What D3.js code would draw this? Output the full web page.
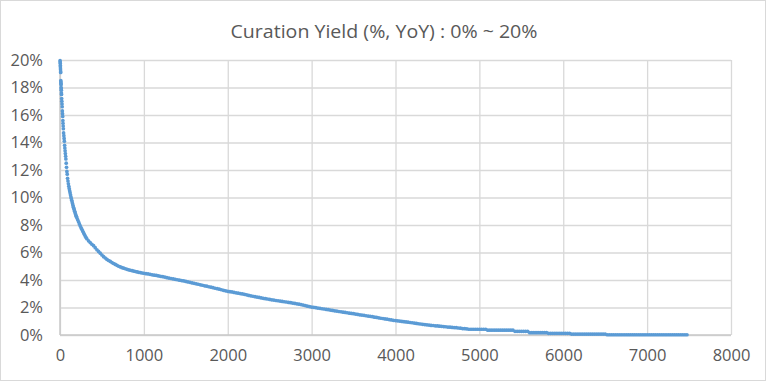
<!DOCTYPE html>
<html>
<head>
<meta charset="utf-8">
<script src="https://cdn.jsdelivr.net/npm/d3@7"></script>
<style>
  body { margin: 0; background: #fff; }
  svg { display: block; font-family: 'Open Sans', sans-serif; }
</style>
</head>
<body>
<div id="chart"></div>
<script>
'use strict';

const title = 'Curation Yield (%, YoY) : 0% ~ 20%';
const xTicks = [0, 1000, 2000, 3000, 4000, 5000, 6000, 7000, 8000];
const yTicks = [0, 2, 4, 6, 8, 10, 12, 14, 16, 18, 20];

// rank of each account (x) and its yield in % (y)
const ranks = [
  1, 2, 3, 4, 5, 6, 7, 8,
  10, 11, 12, 13, 14, 15, 16, 17, 18,
  20, 22, 24, 26, 28, 30, 32, 34, 36, 38, 40,
  43, 46, 49, 52, 55, 58, 61, 64, 67, 70, 74, 78, 82, 86,
  90, 95, 100, 105, 110, 115, 120, 125, 130, 135, 140, 145,
  150, 155, 160, 165, 170, 175, 180, 185, 190, 195, 200,
  210, 220, 230, 240, 250, 260, 270, 280, 290, 300, 310, 320,
  340, 360, 380, 400, 420, 440, 460, 480, 500, 520, 540, 560,
  580, 600, 620, 640, 660, 680, 700, 720, 740, 760, 780, 800,
  820, 840, 860, 880, 900, 920, 940, 960, 980,
  1000, 1025, 1050, 1075, 1100, 1125, 1150, 1175,
  1200, 1225, 1250, 1275, 1300, 1325, 1350, 1375,
  1400, 1425, 1450, 1475, 1500, 1525, 1550, 1575,
  1600, 1625, 1650, 1675, 1700, 1725, 1750, 1775,
  1800, 1825, 1850, 1875, 1900, 1925, 1950, 1975,
  2000, 2025, 2050, 2075, 2100, 2125, 2150, 2175,
  2200, 2225, 2250, 2275, 2300, 2325, 2350, 2375,
  2400, 2425, 2450, 2475, 2500, 2525, 2550, 2575,
  2600, 2625, 2650, 2675, 2700, 2725, 2750, 2775,
  2800, 2825, 2850, 2875, 2900, 2925, 2950, 2975,
  3000, 3025, 3050, 3075, 3100, 3125, 3150, 3175,
  3200, 3225, 3250, 3275, 3300, 3325, 3350, 3375,
  3400, 3425, 3450, 3475, 3500, 3525, 3550, 3575,
  3600, 3625, 3650, 3675, 3700, 3725, 3750, 3775,
  3800, 3825, 3850, 3875, 3900, 3925, 3950, 3975,
  4000, 4025, 4050, 4075, 4100, 4125, 4150, 4175,
  4200, 4225, 4250, 4275, 4300, 4325, 4350, 4375,
  4400, 4425, 4450, 4475, 4500, 4525, 4550, 4575,
  4600, 4625, 4650, 4675, 4700, 4725, 4750, 4775,
  4800, 4825, 4850, 4875, 4900, 4925, 4950, 4975,
  5000, 5025, 5050, 5075, 5100, 5125, 5150, 5175,
  5200, 5225, 5250, 5275, 5300, 5325, 5350, 5375,
  5400, 5425, 5450, 5475, 5500, 5525, 5550, 5575,
  5600, 5625, 5650, 5675, 5700, 5725, 5750, 5775,
  5800, 5825, 5850, 5875, 5900, 5925, 5950, 5975,
  6000, 6025, 6050, 6075, 6100, 6125, 6150, 6175,
  6200, 6225, 6250, 6275, 6300, 6325, 6350, 6375,
  6400, 6425, 6450, 6475, 6500, 6525, 6550, 6575,
  6600, 6625, 6650, 6675, 6700, 6725, 6750, 6775,
  6800, 6825, 6850, 6875, 6900, 6925, 6950, 6975,
  7000, 7025, 7050, 7075, 7100, 7125, 7150, 7175,
  7200, 7225, 7250, 7275, 7300, 7325, 7350, 7375,
  7400, 7425, 7450, 7475
];

const yields = [
  19.95, 19.85, 19.75, 19.6, 19.5, 19.35, 19.2, 19.1,
  18.5, 18.4, 18.3, 18.2, 18.0, 17.9, 17.8, 17.6, 17.5,
  17.2, 17.0, 16.8, 16.6, 16.3, 16.1, 15.9, 15.6, 15.4, 15.2, 15.0,
  14.7, 14.5, 14.3, 14.1, 13.8, 13.6, 13.4, 13.2, 13.0, 12.8, 12.5, 12.2, 11.9, 11.7,
  11.40, 11.20, 11.00, 10.82, 10.65, 10.50, 10.35, 10.20, 10.05, 9.92, 9.80, 9.67,
  9.55, 9.42, 9.30, 9.20, 9.10, 9.00, 8.90, 8.80, 8.70, 8.62, 8.55,
  8.40, 8.25, 8.10, 7.95, 7.82, 7.70, 7.57, 7.45, 7.32, 7.20, 7.10, 7.00,
  6.85, 6.72, 6.60, 6.50, 6.35, 6.20, 6.08, 5.95, 5.82, 5.70, 5.60, 5.50,
  5.42, 5.35, 5.27, 5.20, 5.13, 5.07, 5.00, 4.95, 4.90, 4.86, 4.82, 4.78,
  4.74, 4.71, 4.68, 4.65, 4.62, 4.59, 4.56, 4.54, 4.51,
  4.49, 4.46, 4.44, 4.41, 4.38, 4.35, 4.33, 4.30,
  4.27, 4.24, 4.21, 4.17, 4.14, 4.11, 4.08, 4.05,
  4.02, 3.99, 3.96, 3.93, 3.90, 3.86, 3.83, 3.79,
  3.76, 3.72, 3.69, 3.65, 3.62, 3.58, 3.55, 3.51,
  3.48, 3.44, 3.40, 3.37, 3.33, 3.29, 3.25, 3.21,
  3.18, 3.15, 3.13, 3.10, 3.07, 3.04, 3.01, 2.99,
  2.96, 2.92, 2.88, 2.85, 2.82, 2.79, 2.76, 2.73,
  2.70, 2.67, 2.64, 2.62, 2.59, 2.56, 2.54, 2.51,
  2.49, 2.47, 2.44, 2.42, 2.40, 2.37, 2.35, 2.32,
  2.30, 2.27, 2.24, 2.21, 2.18, 2.14, 2.10, 2.07,
  2.03, 2.01, 1.99, 1.96, 1.94, 1.91, 1.89, 1.86,
  1.84, 1.81, 1.79, 1.76, 1.74, 1.71, 1.69, 1.66,
  1.64, 1.62, 1.59, 1.57, 1.55, 1.52, 1.50, 1.47,
  1.45, 1.43, 1.40, 1.38, 1.36, 1.33, 1.30, 1.28,
  1.25, 1.22, 1.20, 1.17, 1.15, 1.12, 1.10, 1.07,
  1.05, 1.03, 1.01, 0.99, 0.97, 0.95, 0.93, 0.91,
  0.89, 0.87, 0.84, 0.82, 0.80, 0.78, 0.76, 0.74,
  0.72, 0.70, 0.69, 0.67, 0.66, 0.64, 0.63, 0.61,
  0.60, 0.58, 0.57, 0.55, 0.54, 0.53, 0.51, 0.50,
  0.47, 0.46, 0.45, 0.42, 0.42, 0.42, 0.42, 0.42,
  0.42, 0.42, 0.42, 0.42, 0.35, 0.35, 0.35, 0.35,
  0.35, 0.35, 0.35, 0.35, 0.35, 0.35, 0.35, 0.35,
  0.35, 0.27, 0.27, 0.27, 0.27, 0.27, 0.27, 0.27,
  0.17, 0.17, 0.17, 0.17, 0.17, 0.17, 0.17, 0.17,
  0.17, 0.12, 0.12, 0.12, 0.12, 0.12, 0.12, 0.12,
  0.12, 0.12, 0.12, 0.12, 0.07, 0.07, 0.07, 0.07,
  0.07, 0.07, 0.07, 0.07, 0.07, 0.07, 0.07, 0.07,
  0.07, 0.07, 0.07, 0.07, 0.07, 0.02, 0.02, 0.02,
  0.02, 0.02, 0.02, 0.02, 0.02, 0.02, 0.02, 0.02,
  0.02, 0.02, 0.02, 0.02, 0.02, 0.02, 0.02, 0.02,
  0.02, 0.02, 0.02, 0.02, 0.02, 0.02, 0.02, 0.02,
  0.02, 0.02, 0.02, 0.02, 0.02, 0.02, 0.02, 0.02,
  0.02, 0.02, 0.02, 0.02
];

let w = 768, h = 384;
let plot = {left: 60, right: 731, top: 60, bottom: 335};
let gridColor = '#d9d9d9', textColor = '#595959', markColor = '#5b9bd5';

let svg = d3.select('#chart').append('svg')
    .attr('width', w).attr('height', h);

// chart area border
svg.append('rect')
    .attr('x', 0.5).attr('y', 0.5)
    .attr('width', w - 3).attr('height', h - 4)
    .attr('fill', '#fff').attr('stroke', '#d9d9d9');

let x = d3.scaleLinear().domain([0, 8000]).range([plot.left, plot.right]);
let y = d3.scaleLinear().domain([0, 20]).range([plot.bottom, plot.top]);

//gridlines
let xAxis = d3.axisBottom(x).tickValues(xTicks).tickSize(-(plot.bottom - plot.top)).tickPadding(14)
    .tickFormat(d3.format('d'));
let yAxis = d3.axisLeft(y).tickValues(yTicks).tickSize(-(plot.right - plot.left)).tickPadding(17)
    .tickFormat((d) => d + '%');

let gx = svg.append('g')
    .attr('transform', `translate(0,${plot.bottom})`)
    .call(xAxis);
let gy = svg.append('g')
    .attr('transform', `translate(${plot.left},0)`)
    .call(yAxis);

for (let g of [gx, gy]) {
    g.select('.domain').remove();
    g.selectAll('.tick line').attr('stroke', gridColor).attr('stroke-width', 1.3);
    g.selectAll('.tick text')
        .attr('fill', textColor)
        .style('font-size', '16.5px')
        .style('font-family', "'Open Sans', sans-serif");
}

// axis lines a touch darker than the grid
svg.append('line')
    .attr('x1', plot.left).attr('x2', plot.right)
    .attr('y1', plot.bottom).attr('y2', plot.bottom)
    .attr('stroke', '#c8c8c8').attr('stroke-width', 1.5);
svg.append('line')
    .attr('x1', plot.left).attr('x2', plot.left)
    .attr('y1', plot.top).attr('y2', plot.bottom)
    .attr('stroke', '#c8c8c8').attr('stroke-width', 1.5);

let points = ranks.map((r, i) => ({rank: r, value: yields[i]}));

svg.append('g').selectAll('circle')
    .data(points)
    .join('circle')
    .attr('cx', (d) => x(d.rank))
    .attr('cy', (d) => y(d.value))
    .attr('r', 1.85)
    .attr('fill', markColor);

svg.append('text')
    .attr('x', 384).attr('y', 38)
    .attr('text-anchor', 'middle')
    .attr('fill', textColor)
    .attr('textLength', 307)
    .attr('lengthAdjust', 'spacingAndGlyphs')
    .style('font-size', '19px')
    .text(title);
</script>
</body>
</html>
